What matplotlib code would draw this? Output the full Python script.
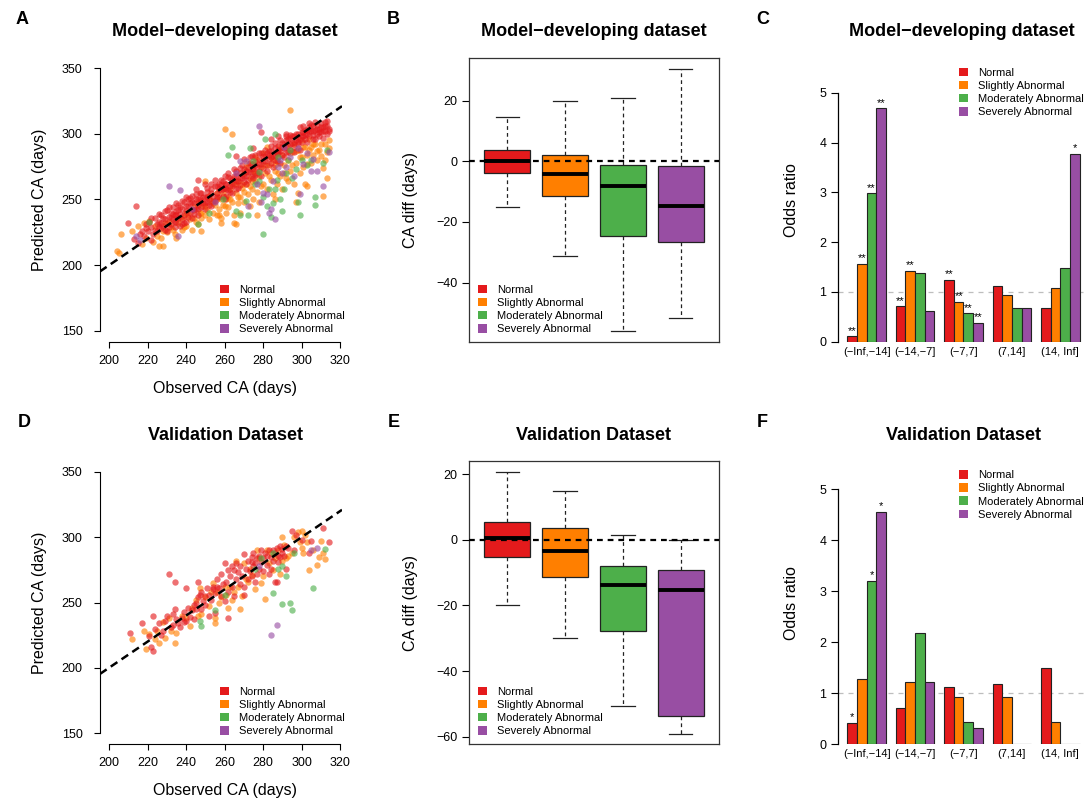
import numpy as np
import matplotlib
matplotlib.use("Agg")
import matplotlib.pyplot as plt
from matplotlib.patches import Patch

plt.rcParams['font.family'] = ['Liberation Sans', 'DejaVu Sans']

W, H = 1084, 801
groups = ["Normal", "Slightly Abnormal", "Moderately Abnormal", "Severely Abnormal"]
colors = ["#E41A1C", "#FF7F00", "#4DAF4A", "#984EA3"]
MINUS = "\u2212"

# ---- scatter, model-developing dataset: (observed, predicted) ----
normal_dev = [
    (210, 232), (213, 220), (214, 245), (215, 217), (216, 224), (218, 222), (219, 228), (220, 226),
    (221, 233), (222, 219), (222, 229), (223, 224), (224, 236), (225, 231), (225, 226), (226, 233),
    (227, 238), (227, 228), (228, 230), (229, 235), (229, 241), (230, 232), (230, 226), (231, 237),
    (232, 240), (232, 231), (233, 235), (233, 244), (234, 229), (234, 238), (235, 241), (235, 233),
    (236, 236), (236, 246), (237, 239), (237, 230), (238, 243), (238, 235), (239, 238), (239, 248),
    (240, 241), (240, 233), (241, 245), (241, 237), (242, 240), (242, 251), (243, 243), (243, 236),
    (244, 247), (244, 239), (245, 243), (245, 254), (246, 246), (246, 238), (247, 250), (248, 244),
    (248, 255), (249, 247), (250, 252), (250, 243), (251, 256), (251, 248), (252, 250), (253, 258),
    (253, 245), (254, 253), (255, 249), (255, 260), (256, 255), (257, 252), (257, 262), (258, 257),
    (259, 253), (259, 264), (260, 259), (260, 250), (261, 262), (262, 257), (262, 267), (263, 260),
    (264, 265), (264, 255), (265, 262), (266, 268), (266, 258), (267, 264), (268, 270), (268, 261),
    (269, 266), (270, 273), (270, 263), (271, 268), (272, 275), (272, 265), (273, 271), (274, 277),
    (274, 268), (275, 273), (276, 279), (276, 269), (277, 275), (278, 281), (278, 272), (279, 277),
    (280, 283), (280, 274), (281, 279), (282, 285), (282, 276), (283, 281), (284, 287), (284, 278),
    (285, 283), (286, 289), (286, 280), (287, 285), (288, 291), (288, 282), (289, 287), (290, 293),
    (290, 284), (291, 289), (292, 295), (292, 286), (293, 291), (294, 297), (294, 288), (295, 293),
    (296, 298), (296, 290), (297, 295), (298, 300), (298, 292), (299, 296), (300, 301), (300, 294),
    (301, 298), (302, 303), (302, 296), (303, 300), (304, 305), (304, 298), (305, 302), (306, 306),
    (306, 299), (307, 303), (308, 307), (308, 300), (309, 304), (310, 308), (310, 301), (311, 305),
    (312, 309), (312, 302), (313, 306), (314, 304), (313, 300), (311, 297), (309, 298), (307, 296),
    (275, 289), (270, 281), (265, 273), (260, 268), (255, 265), (250, 262), (245, 258), (240, 252),
    (235, 247), (230, 242), (246, 265), (266, 283), (279, 301), (284, 296), (288, 298), (292, 300),
    (226, 229), (228, 236), (231, 229), (233, 239), (236, 242), (238, 231), (241, 250), (243, 248),
    (246, 250), (248, 249), (251, 252), (253, 255), (256, 260), (258, 261), (261, 258), (263, 266),
    (266, 264), (268, 274), (271, 272), (273, 278), (276, 276), (278, 285), (281, 283), (283, 287),
    (286, 284), (288, 288), (291, 292), (293, 296), (296, 294), (298, 297), (301, 301), (303, 303),
    (306, 302), (308, 304), (311, 302), (274, 283), (279, 285), (284, 291), (289, 295), (294, 299),
    (299, 305), (304, 308),
    (217, 226), (219, 231), (222, 236), (224, 227), (226, 239), (227, 232), (229, 227), (231, 244),
    (232, 236), (234, 233), (235, 238), (237, 244), (238, 249), (239, 232), (240, 245), (242, 247),
    (243, 253), (244, 242), (245, 250), (246, 243), (247, 255), (249, 252), (250, 247), (251, 259),
    (252, 246), (253, 262), (254, 249), (256, 252), (257, 258), (258, 265), (259, 258), (260, 262),
    (261, 253), (262, 270), (263, 256), (264, 260), (265, 268), (266, 272), (267, 259), (268, 266),
    (269, 276), (270, 268), (271, 262), (272, 271), (273, 282), (274, 273), (275, 266), (276, 284),
    (277, 270), (278, 277), (279, 268), (280, 279), (281, 288), (282, 272), (283, 284), (284, 282),
    (285, 275), (286, 293), (287, 279), (288, 286), (289, 278), (290, 290), (291, 282), (292, 298),
    (293, 286), (294, 292), (295, 298), (296, 286), (297, 300), (298, 294), (299, 288), (300, 298),
    (301, 306), (302, 299), (303, 294), (304, 302), (305, 307), (306, 296), (307, 309), (309, 301),
    (310, 305), (312, 306), (313, 310), (314, 302),
]
slight_dev = [
    (204, 211), (205, 209), (206, 224), (212, 226), (215, 230), (217, 216), (219, 221), (221, 234),
    (223, 218), (225, 222), (226, 215), (228, 226), (230, 225), (232, 229), (234, 224), (235, 221),
    (236, 232), (238, 227), (240, 230), (240, 240), (242, 235), (243, 227), (244, 244), (245, 233),
    (246, 231), (247, 240), (248, 236), (249, 245), (250, 238), (250, 264), (251, 242), (252, 235),
    (253, 249), (254, 240), (255, 246), (256, 238), (256, 255), (257, 243), (258, 250), (258, 236),
    (259, 246), (260, 304), (261, 240), (262, 252), (262, 244), (263, 258), (264, 248), (264, 300),
    (265, 238), (265, 232), (266, 255), (267, 247), (267, 264), (268, 252), (268, 240), (269, 259),
    (270, 248), (270, 270), (271, 262), (272, 254), (272, 278), (273, 245), (273, 266), (274, 258),
    (275, 272), (275, 250), (276, 264), (276, 282), (277, 256), (278, 268), (278, 248), (279, 275),
    (280, 262), (280, 285), (281, 270), (282, 258), (282, 290), (283, 276), (284, 265), (285, 280),
    (285, 254), (286, 272), (287, 286), (287, 262), (288, 278), (289, 268), (290, 284), (290, 258),
    (291, 276), (292, 290), (292, 266), (293, 280), (294, 318), (294, 272), (295, 286), (296, 262),
    (296, 292), (297, 278), (298, 255), (298, 288), (299, 270), (300, 295), (300, 282), (301, 275),
    (302, 290), (302, 262), (303, 284), (304, 296), (305, 278), (305, 290), (306, 284), (307, 292),
    (308, 280), (309, 288), (310, 283), (311, 253), (311, 274), (312, 292), (313, 266), (313, 286),
    (314, 295), (303, 260), (297, 248), (286, 250), (277, 238), (266, 231), (258, 232), (248, 226),
    (239, 237), (229, 232), (218, 232), (228, 215),
    (224, 230), (227, 221), (231, 233), (233, 227), (237, 236), (239, 229), (241, 239), (244, 236),
    (246, 247), (248, 240), (250, 245), (252, 253), (254, 247), (256, 250), (257, 238), (259, 255),
    (260, 245), (261, 250), (263, 250), (264, 262), (266, 262), (267, 252), (269, 262), (270, 256),
    (271, 275), (273, 260), (274, 264), (276, 270), (277, 280), (279, 260), (281, 276), (283, 268),
    (284, 282), (286, 276), (288, 270), (289, 290), (291, 270), (293, 264), (294, 285), (295, 276),
    (297, 287), (299, 282), (301, 290), (303, 277), (304, 288), (306, 292), (308, 287), (310, 292),
    (312, 280), (314, 289),
]
moder_dev = [
    (221, 233), (246, 231), (252, 240), (259, 250), (262, 284), (264, 290), (266, 241), (268, 238),
    (272, 238), (273, 289), (275, 279), (276, 262), (278, 264), (280, 224), (280, 252), (281, 296),
    (282, 245), (283, 258), (284, 237), (285, 247), (286, 258), (287, 265), (288, 282), (289, 250),
    (290, 241), (291, 258), (292, 270), (293, 280), (294, 288), (295, 266), (297, 273), (298, 248),
    (299, 238), (300, 280), (303, 276), (305, 280), (307, 252), (307, 246), (311, 278), (313, 288),
    (278, 271), (286, 300), (271, 249),
]
severe_dev = [
    (214, 222), (216, 219), (231, 260), (236, 222), (237, 257), (243, 243), (255, 248), (266, 270),
    (268, 279), (271, 279), (272, 245), (277, 262), (278, 306), (279, 248), (280, 255), (282, 254),
    (283, 240), (284, 243), (285, 264), (286, 235), (288, 275), (289, 280), (290, 270), (292, 275),
    (294, 282), (296, 268), (298, 289), (299, 254), (301, 277), (303, 285), (305, 272), (306, 281),
    (308, 272), (311, 260), (314, 286), (291, 290),
]

# ---- scatter, validation dataset ----
normal_val = [
    (211, 227), (217, 234), (221, 224), (222, 216), (223, 213), (223, 240), (224, 230), (226, 234),
    (227, 225), (229, 236), (230, 240), (231, 272), (232, 231), (233, 233), (234, 266), (234, 245),
    (235, 237), (236, 234), (237, 231), (238, 238), (239, 243), (240, 236), (240, 261), (241, 246),
    (242, 239), (243, 244), (244, 237), (245, 250), (246, 266), (246, 254), (247, 256), (248, 245),
    (249, 251), (250, 248), (251, 261), (252, 256), (253, 252), (254, 262), (255, 257), (255, 242),
    (256, 268), (257, 261), (258, 255), (259, 264), (260, 251), (260, 280), (261, 266), (262, 258),
    (262, 238), (263, 270), (264, 262), (265, 275), (265, 255), (266, 268), (267, 273), (268, 264),
    (268, 278), (269, 270), (270, 287), (270, 262), (271, 276), (272, 282), (272, 268), (273, 274),
    (274, 285), (274, 270), (275, 288), (275, 278), (276, 280), (277, 272), (278, 286), (278, 276),
    (279, 290), (279, 281), (280, 284), (280, 274), (281, 288), (282, 279), (282, 286), (283, 272),
    (283, 290), (284, 285), (284, 276), (285, 282), (286, 288), (286, 266), (287, 292), (287, 266),
    (288, 281), (289, 285), (289, 293), (290, 288), (290, 291), (291, 286), (292, 276), (292, 293),
    (293, 292), (295, 305), (296, 290), (304, 288), (305, 297), (311, 307), (314, 296), (300, 298),
    (297, 302), (276, 266), (270, 256), (264, 278), (258, 272), (252, 240), (248, 258), (244, 248),
    (228, 228), (233, 241), (239, 235), (254, 260), (266, 280), (277, 284), (285, 290), (288, 286),
    (274, 281), (262, 275), (256, 262), (250, 255), (245, 245),
]
slight_val = [
    (212, 222), (218, 228), (219, 214), (221, 226), (224, 222), (225, 228), (226, 219), (228, 235),
    (229, 223), (231, 238), (232, 228), (234, 219), (235, 227), (238, 240), (240, 238), (242, 232),
    (243, 246), (245, 252), (246, 240), (247, 261), (248, 241), (250, 254), (252, 247), (253, 258),
    (254, 265), (255, 238), (255, 234), (256, 258), (257, 250), (258, 254), (260, 262), (261, 256),
    (262, 246), (263, 262), (264, 252), (265, 258), (266, 282), (267, 262), (268, 245), (269, 255),
    (270, 280), (271, 268), (272, 266), (273, 276), (274, 271), (276, 260), (277, 290), (278, 284),
    (279, 265), (280, 270), (281, 253), (282, 290), (283, 280), (284, 288), (285, 275), (286, 284),
    (288, 290), (289, 272), (290, 282), (291, 294), (292, 284), (293, 286), (295, 288), (296, 300),
    (298, 304), (299, 296), (300, 292), (301, 288), (302, 302), (303, 296), (304, 275), (306, 290),
    (308, 279), (309, 285), (310, 297), (311, 288), (312, 283), (300, 305), (290, 300),
]
moder_val = [
    (247, 236), (248, 232), (255, 244), (260, 256), (276, 276), (279, 284), (285, 257), (285, 288),
    (288, 276), (290, 249), (290, 278), (292, 270), (294, 250), (295, 244), (296, 288), (306, 261),
    (312, 291),
]
severe_val = [(278, 278), (284, 225), (287, 233), (305, 290), (308, 292)]

# ---- CA diff boxplot stats (whislo, q1, med, q3, whishi) per group ----
dev_whislo = [-15.2, -31.3, -56.0, -51.8]
dev_q1 = [-3.9, -11.3, -24.5, -26.6]
dev_med = [0.0, -4.3, -8.2, -14.8]
dev_q3 = [3.7, 2.1, -1.1, -1.6]
dev_whishi = [14.6, 20.0, 20.8, 30.4]

val_whislo = [-20.0, -30.0, -50.6, -59.1]
val_q1 = [-5.2, -11.3, -27.8, -53.8]
val_med = [0.4, -3.4, -13.7, -15.2]
val_q3 = [5.4, 3.6, -8.0, -9.1]
val_whishi = [20.7, 14.9, 1.4, 0.0]

# ---- odds ratios per group across CA-diff bins ----
or_bins = ["(%sInf,%s14]" % (MINUS, MINUS), "(%s14,%s7]" % (MINUS, MINUS),
           "(%s7,7]" % MINUS, "(7,14]", "(14, Inf]"]
dev_or = [
    [0.11, 0.71, 1.24, 1.11, 0.68],
    [1.57, 1.42, 0.80, 0.94, 1.08],
    [2.98, 1.38, 0.57, 0.67, 1.48],
    [4.69, 0.61, 0.38, 0.68, 3.77],
]
dev_sig = [
    ["**", "**", "**", "", ""],
    ["**", "**", "**", "", ""],
    ["**", "", "**", "", ""],
    ["**", "", "**", "", "*"],
]
val_or = [
    [0.42, 0.71, 1.13, 1.19, 1.49],
    [1.29, 1.23, 0.92, 0.93, 0.44],
    [3.21, 2.18, 0.43, 0.0, 0.0],
    [4.56, 1.23, 0.31, 0.0, 0.0],
]
val_sig = [
    ["*", "", "", "", ""],
    ["", "", "", "", ""],
    ["*", "", "", "", ""],
    ["*", "", "", "", ""],
]

fig = plt.figure(figsize=(W / 100, H / 100), dpi=100)


def add_ax(l, t, r, b):
    return fig.add_axes([l / W, 1 - b / H, (r - l) / W, (b - t) / H])


def ftext(x, y, s, **kw):
    fig.text(x / W, 1 - y / H, s, **kw)


def add_legend(ax, x, y):
    handles = [Patch(facecolor=c, edgecolor="none") for c in colors]
    ax.legend(handles, groups, loc="upper left", bbox_to_anchor=(x / W, 1 - y / H),
              bbox_transform=fig.transFigure, frameon=False, fontsize=8,
              handlelength=0.8, handleheight=0.8, handletextpad=0.9,
              labelspacing=0.28, borderpad=0, borderaxespad=0)


def scatter_panel(ax, sets, legend_y):
    for i in [1, 0, 2, 3]:
        pts = np.array(sets[i], float)
        ax.scatter(pts[:, 0], pts[:, 1], s=21, color=colors[i], alpha=0.62, lw=0, zorder=2)
    ax.axline((200, 200), (300, 300), color="black", lw=1.8, ls=(0, (3.2, 2.0)), zorder=3)
    ax.set_xlim(195.3, 321.0)
    ax.set_ylim(141.6, 358.4)
    for s in ["top", "right"]:
        ax.spines[s].set_visible(False)
    ax.spines["left"].set_bounds(150, 350)
    ax.spines["bottom"].set_bounds(200, 320)
    ax.set_xticks(range(200, 321, 20))
    ax.set_yticks(range(150, 351, 50))
    ax.tick_params(direction="out", length=4.2, width=0.8, labelsize=9)
    ax.tick_params(axis="y", pad=8.4)
    ax.tick_params(axis="x", pad=5.0)
    add_legend(ax, 220, legend_y)


def box_panel(ax, lo, q1, med, q3, hi, ylim, yticks, legend_y):
    stats = [dict(whislo=a, q1=b, med=c, q3=d, whishi=e) for a, b, c, d, e in zip(lo, q1, med, q3, hi)]
    bp = ax.bxp(stats, positions=[1, 2, 3, 4], widths=0.8, capwidths=0.4, patch_artist=True,
                showfliers=False,
                boxprops=dict(lw=0.9, edgecolor="#222222"),
                whiskerprops=dict(lw=0.9, color="#222222", ls=(0, (3, 2.5))),
                capprops=dict(lw=0.9, color="#222222"),
                medianprops=dict(color="black", lw=2.8, solid_capstyle="butt"))
    for patch, c in zip(bp["boxes"], colors):
        patch.set_facecolor(c)
    ax.axhline(0, color="black", lw=1.6, ls=(0, (2.6, 2.2)), zorder=5)
    ax.set_xlim(0.34, 4.66)
    ax.set_ylim(*ylim)
    ax.set_xticks([])
    ax.set_yticks(yticks)
    for s in ax.spines.values():
        s.set_linewidth(0.9)
        s.set_color("#333333")
    ax.tick_params(axis="y", direction="out", length=5, width=0.8, labelsize=9, pad=3.4)
    add_legend(ax, 478, legend_y)


def bar_panel(ax, vals, sig, ytop, legend_y):
    for j, (v, st) in enumerate(zip(vals, sig)):
        xs = np.arange(len(or_bins)) * 5 + 1.5 + j
        ax.bar(xs, v, width=1.0, color=colors[j], edgecolor="#222222", lw=0.8, zorder=2)
        for x, h, s in zip(xs, v, st):
            if s:
                ax.text(x, h + 0.01, s, ha="center", va="bottom", fontsize=8, zorder=3)
    ax.axhline(1, color="#BEBEBE", lw=0.9, ls=(0, (4, 4)), zorder=0)
    ax.set_xlim(0.04, 25.96)
    ax.set_ylim(0, ytop)
    for s in ["top", "right", "bottom"]:
        ax.spines[s].set_visible(False)
    ax.spines["left"].set_bounds(0, 5)
    ax.spines["left"].set_linewidth(0.9)
    ax.set_yticks(range(6))
    ax.set_xticks(np.arange(len(or_bins)) * 5 + 3)
    ax.set_xticklabels(or_bins)
    ax.tick_params(axis="y", direction="out", length=5, width=0.8, labelsize=9, pad=3.4)
    ax.tick_params(axis="x", length=0, labelsize=8, pad=3.5)
    add_legend(ax, 959, legend_y)


# --- top row: model-developing dataset ---
axA = add_ax(100, 57, 342, 342)
scatter_panel(axA, [normal_dev, slight_dev, moder_dev, severe_dev], 284.5)
axB = add_ax(469, 58, 719, 342)
box_panel(axB, dev_whislo, dev_q1, dev_med, dev_q3, dev_whishi, (-59.6, 34.1), [-40, -20, 0, 20], 284.5)
axC = add_ax(838, 60, 1089, 341.7)
bar_panel(axC, dev_or, dev_sig, 5.657, 67.5)

# --- bottom row: validation dataset ---
axD = add_ax(100, 461, 342, 744)
scatter_panel(axD, [normal_val, slight_val, moder_val, severe_val], 686.5)
axE = add_ax(469, 461, 719, 744)
box_panel(axE, val_whislo, val_q1, val_med, val_q3, val_whishi, (-62.2, 24.0), [-60, -40, -20, 0, 20], 686.5)
axF = add_ax(838, 463, 1089, 744.3)
bar_panel(axF, val_or, val_sig, 5.516, 470)

# titles, panel letters, axis labels
dev_title = "Model%sdeveloping dataset" % MINUS
val_title = "Validation Dataset"
for x, t in [(225, dev_title), (594, dev_title), (962, dev_title)]:
    ftext(x, 32, t, ha="center", va="center", fontsize=13, fontweight="bold")
for x, t in [(225, val_title), (594, val_title), (963, val_title)]:
    ftext(x, 436, t, ha="center", va="center", fontsize=13, fontweight="bold")
for x, y, s in [(22, 20, "A"), (393, 20, "B"), (763, 20, "C"),
                (24, 423, "D"), (394, 423, "E"), (762, 423, "F")]:
    ftext(x, y, s, ha="center", va="center", fontsize=13, fontweight="bold")

for y in [200, 603]:
    ftext(40, y, "Predicted CA (days)", ha="center", va="center", rotation=90, fontsize=11.5)
    ftext(410, y, "CA diff (days)", ha="center", va="center", rotation=90, fontsize=11.5)
    ftext(791, y, "Odds ratio", ha="center", va="center", rotation=90, fontsize=11.5)
for y in [388, 790]:
    ftext(225, y, "Observed CA (days)", ha="center", va="center", fontsize=11.5)

fig.savefig("out.png", dpi=100)
